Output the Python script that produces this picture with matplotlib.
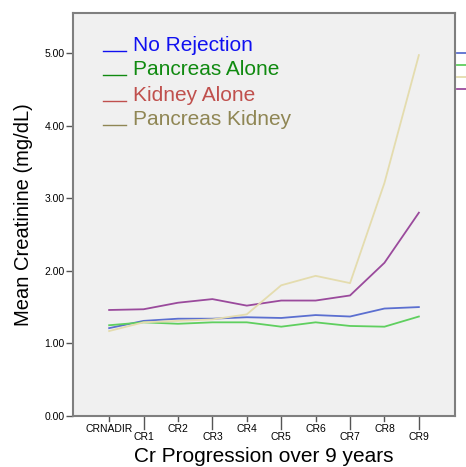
import numpy as np
import matplotlib
matplotlib.use('Agg')
import matplotlib.pyplot as plt
from matplotlib.lines import Line2D

plt.rcParams['font.family'] = ['Liberation Sans', 'DejaVu Sans']

# data
periods = ['CRNADIR', 'CR1', 'CR2', 'CR3', 'CR4', 'CR5', 'CR6', 'CR7', 'CR8', 'CR9']
no_rejection = [1.21, 1.31, 1.34, 1.34, 1.36, 1.35, 1.39, 1.37, 1.48, 1.50]
pancreas_alone = [1.25, 1.29, 1.27, 1.29, 1.29, 1.23, 1.29, 1.24, 1.23, 1.37]
kidney_alone = [1.46, 1.47, 1.56, 1.61, 1.52, 1.59, 1.59, 1.66, 2.11, 2.80]
pancreas_kidney = [1.17, 1.29, 1.31, 1.33, 1.40, 1.80, 1.93, 1.83, 3.21, 4.97]

groups = ['No Rejection', 'Pancreas Alone', 'Kidney Alone', 'Pancreas Kidney']
line_cols = ['#5b6fd0', '#5fcf5f', '#9a4a9c', '#e4dcae']
text_cols = ['#1010f0', '#108a10', '#c0504d', '#8f8654']
series = [no_rejection, pancreas_alone, kidney_alone, pancreas_kidney]

fig = plt.figure(figsize=(4.66, 4.67), dpi=100)
ax = fig.add_axes([73/466, 1 - 416/467, 382/466, 403/467])
ax.set_facecolor('#f0f0f0')

x = np.arange(len(periods))
for vals, c in zip(series, line_cols):
    ax.plot(x, vals, color=c, lw=1.3)

ax.set_xlim(-1.05, 10.05)
ax.set_ylim(0, 5.55)

ax.set_yticks([0, 1, 2, 3, 4, 5])
ax.set_yticklabels(['%.2f' % v for v in range(6)], fontsize=7.5)
ax.tick_params(axis='y', length=5, width=1, color='#555555', pad=1)

ax.set_xticks(x)
ax.set_xticklabels([])
ax.tick_params(axis='x', length=0)
for i, p in enumerate(periods):
    long_tick = i % 2 == 1
    tl = 13 if long_tick else 5
    ax.add_artist(Line2D([i, i], [0, -tl / 72.6], color='#555555', lw=1, clip_on=False))
    ax.text(i, -(tl + 3) / 72.6, p, ha='center', va='top', fontsize=7.5)

for s in ax.spines.values():
    s.set_color('#7f7f7f')
    s.set_linewidth(1.5)

ax.set_ylabel('Mean Creatinine (mg/dL)', fontsize=14.5, labelpad=8)
ax.text(4.5, -0.43, 'Cr Progression over 9 years', ha='center', va='top', fontsize=15)

# legend text inside the plot
leg_y = [5.03, 4.70, 4.34, 4.01]
for name, tc, yy in zip(groups, text_cols, leg_y):
    ax.add_artist(Line2D([-0.18, 0.49], [yy, yy], color=tc, lw=1))
    ax.text(0.69, yy, name, color=tc, fontsize=15, va='baseline', ha='left')

# small marks past the right edge
side_y = [5.0, 4.835, 4.67, 4.50]
side_cols = ['#5b6fd0', '#5fcf5f', '#e4dcae', '#9a4a9c']
for yy, c in zip(side_y, side_cols):
    ax.add_artist(Line2D([10.1, 10.4], [yy, yy], color=c, lw=1.3, clip_on=False))

fig.savefig('out.png', dpi=100)
